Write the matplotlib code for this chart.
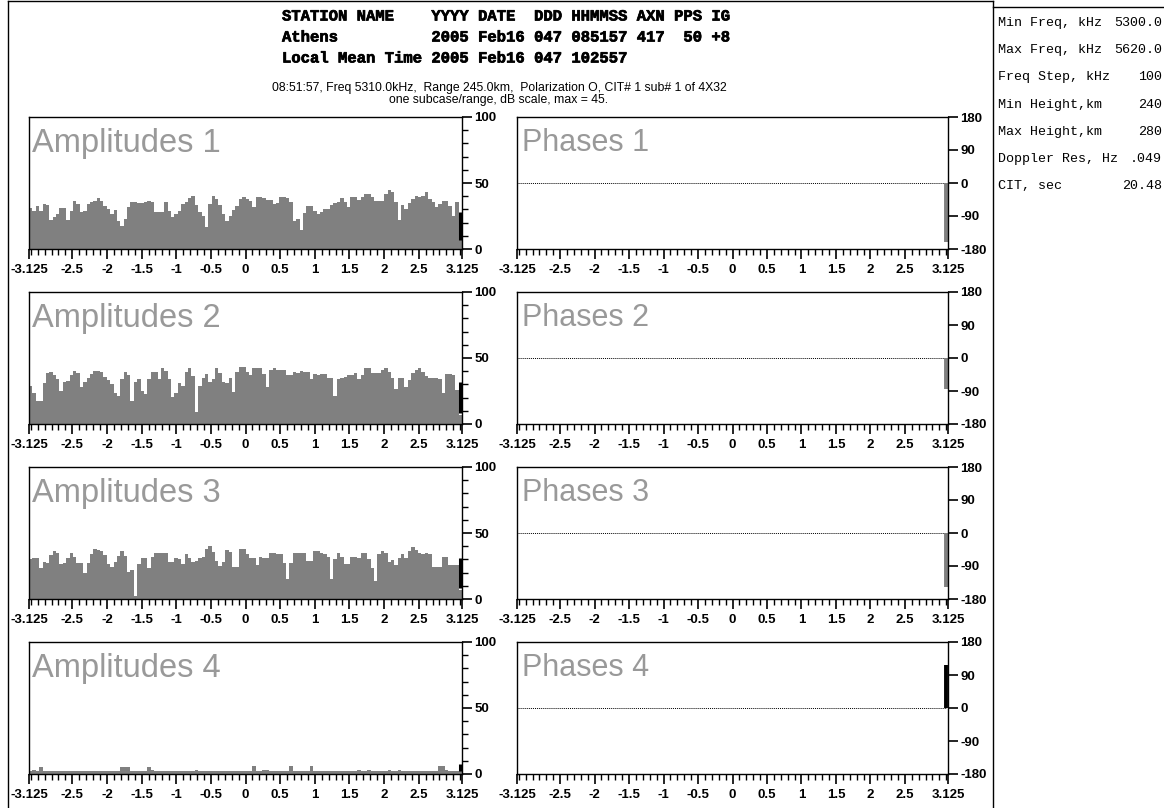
import numpy as np
import matplotlib
matplotlib.use("Agg")
import matplotlib.pyplot as plt
import matplotlib.patheffects as pe
from matplotlib.ticker import FixedLocator, MultipleLocator

plt.rcParams['axes.unicode_minus'] = False

W, H = 1164, 808

# amplitudes (dB), 128 doppler bins from -3.125 to 3.125
amp1 = [31.1, 28.5, 32.8, 28.5, 34.1, 33.6, 22.1, 23.9, 26.5, 31.1, 31.1, 22.1, 29.0, 36.6, 34.1, 27.7,
        29.0, 34.1, 35.4, 36.6, 38.4, 36.6, 32.8, 30.3, 26.5, 29.5, 21.4, 17.6, 22.9, 31.6, 35.4, 35.9,
        34.6, 34.6, 35.4, 36.6, 35.4, 27.7, 27.7, 27.7, 35.4, 29.0, 23.9, 26.5, 29.0, 34.1, 35.9, 38.4,
        39.9, 33.3, 27.7, 25.2, 16.3, 34.1, 39.9, 37.9, 33.6, 26.5, 21.4, 25.2, 29.8, 32.8, 37.9, 39.2,
        37.9, 36.6, 31.6, 39.2, 39.2, 38.7, 37.1, 37.1, 34.1, 34.6, 39.2, 39.2, 38.7, 35.4, 21.4, 22.9,
        14.2, 27.0, 32.8, 32.8, 29.0, 26.5, 27.7, 30.3, 30.3, 33.6, 34.6, 35.4, 38.4, 35.4, 31.6, 39.2,
        39.2, 37.1, 39.2, 41.7, 41.7, 39.2, 36.1, 36.1, 36.6, 41.7, 44.8, 43.0, 35.4, 22.1, 33.3, 30.3,
        34.6, 37.9, 40.1, 39.2, 40.1, 43.0, 37.9, 35.4, 31.6, 34.1, 36.6, 36.6, 32.8, 25.2, 35.9, 6.6]
amp2 = [28.8, 23.2, 17.4, 17.4, 30.8, 38.4, 39.6, 37.1, 33.8, 25.3, 31.6, 32.8, 37.1, 40.4, 38.4, 27.8,
        32.1, 34.6, 37.9, 40.4, 40.4, 39.6, 35.9, 33.3, 30.1, 23.7, 21.2, 34.1, 39.6, 37.1, 17.7, 32.1,
        33.8, 25.3, 22.7, 33.8, 39.6, 39.6, 33.8, 42.2, 40.4, 34.1, 20.7, 23.7, 30.8, 28.8, 39.6, 42.2,
        36.4, 9.3, 28.8, 34.6, 37.6, 32.1, 33.8, 42.2, 38.9, 32.1, 31.3, 34.6, 24.5, 39.6, 43.4, 43.4,
        39.6, 37.1, 42.2, 42.2, 42.2, 37.6, 28.3, 40.9, 42.2, 40.9, 40.9, 40.9, 37.1, 37.1, 39.6, 38.4,
        40.4, 39.6, 39.6, 33.8, 37.9, 37.1, 37.6, 37.9, 34.6, 34.6, 21.2, 34.1, 34.6, 35.9, 37.1, 37.1,
        38.4, 33.8, 37.1, 42.2, 42.2, 38.9, 38.4, 38.4, 40.9, 42.2, 39.6, 34.6, 26.3, 34.6, 34.6, 27.8,
        33.3, 38.4, 40.9, 42.2, 39.6, 36.4, 34.6, 34.6, 34.6, 33.8, 23.2, 37.6, 37.6, 37.1, 25.8, 7.0]
amp3 = [30.3, 31.3, 30.8, 23.2, 28.3, 27.5, 33.3, 36.4, 34.6, 26.5, 27.0, 30.8, 34.6, 31.6, 27.5, 27.5,
        19.9, 27.5, 33.8, 37.6, 37.1, 36.6, 33.3, 26.5, 24.0, 28.3, 32.8, 36.4, 32.6, 20.7, 22.0, 2.3,
        26.3, 31.3, 31.3, 23.2, 31.6, 34.6, 34.6, 34.6, 34.6, 27.8, 27.8, 31.3, 30.3, 26.3, 33.8, 31.3,
        28.3, 28.8, 31.3, 32.1, 37.6, 40.4, 35.9, 28.8, 25.3, 28.3, 37.1, 35.4, 24.5, 24.5, 37.6, 37.6,
        33.8, 30.8, 30.8, 25.8, 31.6, 31.3, 31.3, 34.6, 34.6, 33.8, 33.8, 27.0, 14.9, 27.0, 34.6, 34.6,
        34.6, 34.6, 28.8, 28.8, 36.4, 36.4, 34.6, 34.1, 32.1, 14.9, 30.3, 34.6, 31.6, 26.3, 26.3, 31.6,
        32.1, 31.3, 34.6, 34.6, 30.3, 23.7, 13.9, 33.8, 36.4, 34.6, 28.3, 29.5, 25.8, 30.8, 34.1, 31.3,
        36.4, 39.6, 37.1, 34.6, 33.8, 34.6, 33.8, 24.0, 24.0, 24.0, 31.6, 31.6, 25.8, 25.8, 25.8, 7.0]
amp4 = [2, 3, 2, 5, 2, 2, 2, 2, 2, 2, 2, 2, 2, 2, 2, 2,
        2, 2, 2, 2, 2, 2, 2, 2, 2, 2, 2, 5, 5, 5, 2, 2,
        2, 2, 2, 5, 3, 2, 2, 2, 2, 2, 2, 2, 2, 2, 2, 2,
        2, 3, 2, 2, 2, 2, 2, 2, 2, 2, 2, 2, 2, 2, 2, 2,
        2, 2, 6, 2, 2, 3, 3, 2, 2, 2, 2, 2, 2, 6, 2, 2,
        2, 2, 2, 6, 2, 2, 2, 2, 2, 2, 2, 2, 2, 2, 2, 2,
        2, 3, 2, 2, 3, 2, 2, 2, 2, 2, 3, 2, 2, 3, 2, 2,
        2, 2, 2, 2, 2, 2, 2, 2, 2, 6, 6, 3, 2, 2, 2, 3]
amps = [amp1, amp2, amp3, amp4]

# black marker on the last bin (low, high) in dB
amp_mark = [(6.6, 27.7), (8.1, 32.0), (8.1, 30.8), (2.3, 7.6)]
# phase of the last bin (deg) and its colour
phase_val = [-160, -85, -147, 117]
phase_col = ['#808080', '#808080', '#808080', 'black']

xmaj = [-3.125, -2.5, -2, -1.5, -1, -0.5, 0, 0.5, 1, 1.5, 2, 2.5, 3.125]
xlab = ['-3.125', '-2.5', '-2', '-1.5', '-1', '-0.5', '0', '0.5', '1', '1.5', '2', '2.5', '3.125']

head = ["STATION NAME    YYYY DATE  DDD HHMMSS AXN PPS IG",
        "Athens          2005 Feb16 047 085157 417  50 +8",
        "Local Mean Time 2005 Feb16 047 102557"]
info = [("Min Freq, kHz", "5300.0"), ("Max Freq, kHz", "5620.0"), ("Freq Step, kHz", "100"),
        ("Min Height,km", "240"), ("Max Height,km", "280"), ("Doppler Res, Hz", ".049"),
        ("CIT, sec", "20.48")]


def rect(x0, y0, x1, y1):
    return [x0 / W, 1 - y1 / H, (x1 - x0) / W, (y1 - y0) / H]


tickfont = dict(family='Liberation Sans', weight='bold', size=9.5)

fig = plt.figure(figsize=(W / 100, H / 100), dpi=100)

# frame lines of the page
fig.add_artist(plt.Line2D([7.5 / W, 7.5 / W], [0, 1 - 1 / H], color='black', lw=1))
fig.add_artist(plt.Line2D([7.5 / W, 993 / W], [1 - 1 / H, 1 - 1 / H], color='black', lw=1))
fig.add_artist(plt.Line2D([993 / W, 1], [1 - 7 / H, 1 - 7 / H], color='black', lw=1))
fig.add_artist(plt.Line2D([993 / W, 993 / W], [0, 1 - 1 / H], color='black', lw=1))

for i, t in enumerate(head):
    fig.text(282 / W, 1 - (16 + 21 * i) / H, t, family='Liberation Mono', weight='bold',
             size=11.2, va='center', ha='left',
             path_effects=[pe.withStroke(linewidth=0.5, foreground='black')])
fig.text(499 / W, 1 - 88 / H, "08:51:57, Freq 5310.0kHz,  Range 245.0km,  Polarization O, CIT# 1 sub# 1 of 4X32",
         family='Liberation Sans', size=8.8, ha='center', va='center')
fig.text(499 / W, 1 - 100 / H, "one subcase/range, dB scale, max = 45.",
         family='Liberation Sans', size=8.8, ha='center', va='center')

for i, (k, v) in enumerate(info):
    yy = 1 - (23 + 27.2 * i) / H
    fig.text(998 / W, yy, k, family='Liberation Mono', size=9.6, va='center', ha='left')
    fig.text(1162 / W, yy, v, family='Liberation Mono', size=9.6, va='center', ha='right')

nb = 128
w = 6.25 / nb
edges = -3.125 + w * np.arange(nb)

for r in range(4):
    bot = 249 + 175 * r
    top = bot - 132
    for c in range(2):
        x0, x1 = (29, 462) if c == 0 else (517, 948)
        ax = fig.add_axes(rect(x0, top, x1, bot))
        ax.set_xlim(-3.125, 3.125)
        if c == 0:
            ax.bar(edges, amps[r], width=w, align='edge', color='#808080', lw=0)
            lo, hi = amp_mark[r]
            ax.plot([3.098, 3.098], [lo, hi], color='black', lw=2.2, solid_capstyle='butt')
            ax.set_ylim(0, 100)
            ax.yaxis.set_major_locator(FixedLocator([0, 50, 100]))
            ax.yaxis.set_minor_locator(MultipleLocator(10))
            ax.text(-3.08, 80, f"Amplitudes {r + 1}", color='#999999', size=23.5,
                    family='Liberation Sans', va='center')
        else:
            ax.set_ylim(-180, 180)
            ax.axhline(0, xmax=0.995, color='black', lw=0.7, ls=(0, (1, 1)))
            ax.plot([3.09, 3.09], [0, phase_val[r]], color=phase_col[r], lw=2.8, solid_capstyle='butt')
            ax.yaxis.set_major_locator(FixedLocator([-180, -90, 0, 90, 180]))
            ax.text(-3.05, 108, f"Phases {r + 1}", color='#999999', size=22,
                    family='Liberation Sans', va='center')
        ax.xaxis.set_major_locator(FixedLocator(xmaj))
        ax.set_xticklabels(xlab)
        ax.xaxis.set_minor_locator(MultipleLocator(0.1))
        ax.yaxis.tick_right()
        ax.tick_params(axis='both', which='major', length=7, width=1.2, color='black', pad=2)
        ax.tick_params(axis='x', which='major', pad=4)
        ax.tick_params(axis='both', which='minor', length=4.5, width=1, color='black')
        for lb in ax.get_xticklabels() + ax.get_yticklabels():
            lb.set_fontproperties(matplotlib.font_manager.FontProperties(**tickfont))
        for s in ax.spines.values():
            s.set_linewidth(1)

fig.savefig("out.png", dpi=100)
